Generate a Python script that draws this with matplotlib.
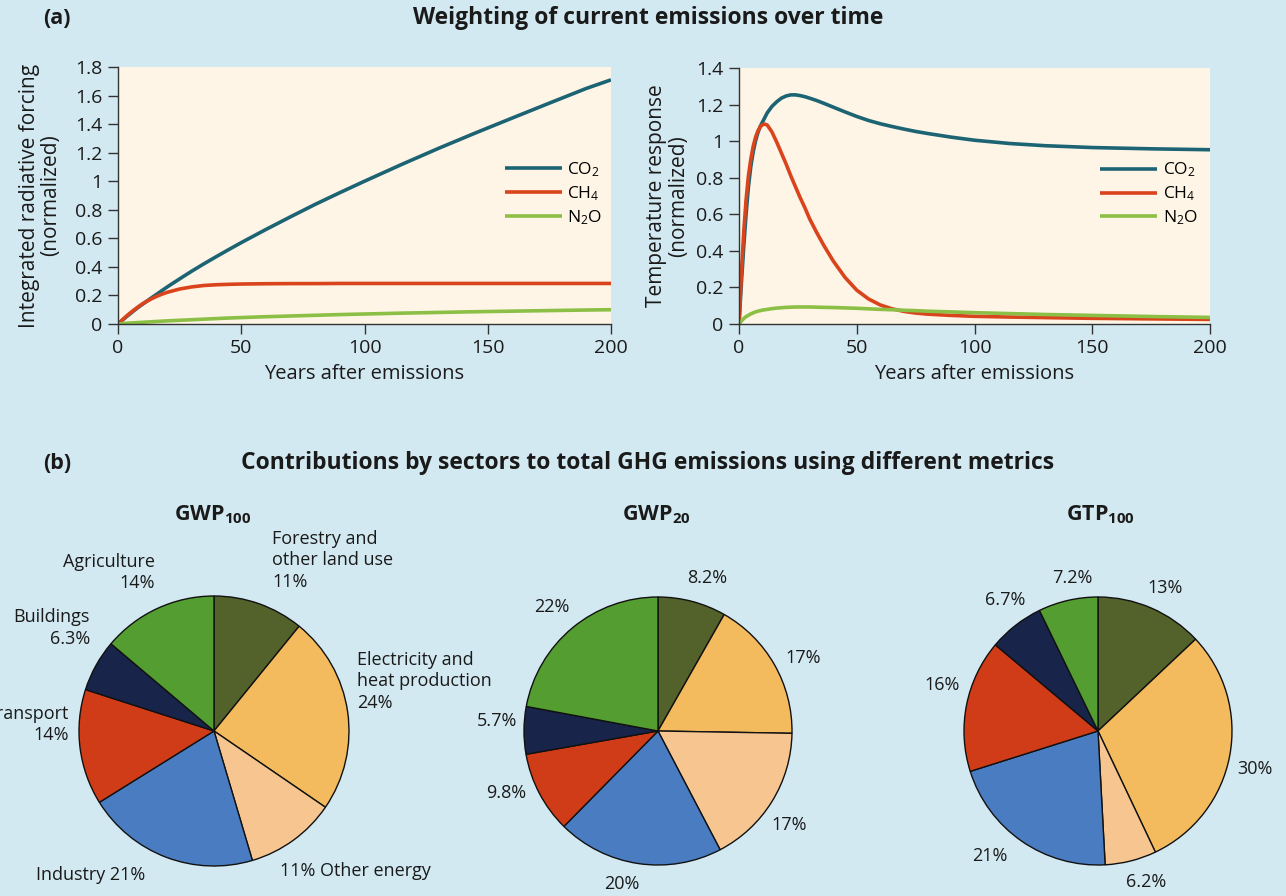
import matplotlib
matplotlib.use("Agg")
import matplotlib.pyplot as plt
from matplotlib.ticker import FuncFormatter

# ---------------- data ----------------
gases = ["CO$_2$", "CH$_4$", "N$_2$O"]

years_irf = [0, 2, 4, 6, 8, 10, 12, 14, 16, 18, 20, 25, 30, 35, 40, 45, 50, 60, 70, 80, 90, 100,
             115, 130, 145, 160, 175, 190, 200]
co2_irf = [0, 0.03, 0.059, 0.087, 0.114, 0.139, 0.164, 0.188, 0.212, 0.236, 0.26, 0.316, 0.371, 0.423,
           0.473, 0.522, 0.57, 0.662, 0.751, 0.838, 0.92, 1.0, 1.117, 1.23, 1.338, 1.443, 1.547, 1.65, 1.71]
ch4_irf = [0, 0.033, 0.064, 0.092, 0.118, 0.142, 0.162, 0.18, 0.196, 0.21, 0.222, 0.245, 0.26, 0.27,
           0.275, 0.278, 0.28, 0.282, 0.283, 0.283, 0.284, 0.284, 0.284, 0.284, 0.284, 0.284, 0.284, 0.284, 0.284]
n2o_irf = [0, 0.003, 0.006, 0.008, 0.01, 0.012, 0.014, 0.016, 0.018, 0.02, 0.022, 0.026, 0.03, 0.034,
           0.038, 0.042, 0.045, 0.051, 0.056, 0.061, 0.066, 0.07, 0.076, 0.081, 0.086, 0.09, 0.094, 0.098, 0.1]

years_temp = [0, 1, 2, 3, 4, 5, 6, 7, 8, 9, 10, 11, 12, 14, 16, 18, 20, 22, 24, 26, 28, 30, 33, 36, 40,
              45, 50, 55, 60, 65, 70, 75, 80, 90, 100, 115, 130, 150, 175, 200]
co2_temp = [0, 0.22, 0.42, 0.6, 0.75, 0.86, 0.94, 1.0, 1.045, 1.08, 1.105, 1.13, 1.155, 1.19, 1.215,
            1.235, 1.247, 1.253, 1.253, 1.249, 1.243, 1.235, 1.222, 1.207, 1.186, 1.16, 1.135, 1.113, 1.095,
            1.08, 1.066, 1.053, 1.042, 1.022, 1.005, 0.987, 0.975, 0.965, 0.958, 0.953]
ch4_temp = [0, 0.27, 0.5, 0.68, 0.81, 0.9, 0.97, 1.02, 1.055, 1.078, 1.09, 1.093, 1.088, 1.05, 0.995,
            0.935, 0.875, 0.81, 0.75, 0.69, 0.635, 0.575, 0.5, 0.43, 0.345, 0.255, 0.185, 0.137, 0.104,
            0.083, 0.069, 0.06, 0.054, 0.047, 0.042, 0.038, 0.035, 0.031, 0.028, 0.025]
n2o_temp = [0, 0.016, 0.03, 0.04, 0.048, 0.055, 0.061, 0.066, 0.07, 0.073, 0.076, 0.078, 0.08, 0.084,
            0.087, 0.089, 0.091, 0.092, 0.093, 0.093, 0.093, 0.093, 0.092, 0.091, 0.09, 0.088, 0.086,
            0.083, 0.08, 0.078, 0.075, 0.073, 0.07, 0.066, 0.062, 0.057, 0.052, 0.047, 0.041, 0.036]

sectors = ["Forestry and other land use", "Electricity and heat production", "Other energy",
           "Industry", "Transport", "Buildings", "Agriculture"]
gwp100 = [11, 24, 11, 21, 14, 6.3, 14]
gwp20 = [8.2, 17, 17, 20, 9.8, 5.7, 22]
gtp100 = [13, 30, 6.2, 21, 16, 6.7, 7.2]

gwp100_labels = ["Forestry and\nother land use\n11%", "Electricity and\nheat production\n24%",
                 "11% Other energy", "Industry 21%", "Transport\n14%", "Buildings\n6.3%", "Agriculture\n14%"]
gwp20_labels = ["8.2%", "17%", "17%", "20%", "9.8%", "5.7%", "22%"]
gtp100_labels = ["13%", "30%", "6.2%", "21%", "16%", "6.7%", "7.2%"]

# ---------------- style ----------------
plt.rcParams['font.family'] = ['Open Sans', 'DejaVu Sans']
plt.rcParams['mathtext.fontset'] = 'custom'
plt.rcParams['mathtext.rm'] = 'Open Sans'
plt.rcParams['mathtext.it'] = 'Open Sans:italic'
plt.rcParams['mathtext.bf'] = 'Open Sans:bold'

BG = "#d3e9f1"
AXBG = "#fef5e6"
line_colors = ["#1c6473", "#d9441c", "#8cbf45"]
sector_colors = ["#52622a", "#f4bb5e", "#f7c690", "#4a7cc2", "#d03c17", "#182449", "#549d31"]
TXT = "#1a1a1a"

W, H = 1286, 896
fig = plt.figure(figsize=(W / 100, H / 100), dpi=100, facecolor=BG)


def box(x0, y0, x1, y1):
    return [x0 / W, 1 - y1 / H, (x1 - x0) / W, (y1 - y0) / H]


def style_line_ax(ax, ymax, ystep):
    ax.set_facecolor(AXBG)
    for s in ["top", "right"]:
        ax.spines[s].set_visible(False)
    for s in ["left", "bottom"]:
        ax.spines[s].set_color("#333333")
        ax.spines[s].set_linewidth(1.0)
    ax.set_xlim(0, 200)
    ax.set_ylim(0, ymax)
    ax.set_xticks([0, 50, 100, 150, 200])
    n = int(round(ymax / ystep))
    ax.set_yticks([round(i * ystep, 2) for i in range(n + 1)])
    ax.yaxis.set_major_formatter(FuncFormatter(lambda v, p: f"{v:g}"))
    ax.tick_params(direction="out", length=7, width=1, color="#333333", labelsize=14, labelcolor=TXT, pad=4)
    ax.set_xlabel("Years after emissions", fontsize=14.5, color=TXT, labelpad=5)


# ---------------- panel (a) ----------------
ax1 = fig.add_axes(box(118, 67, 611, 324))
style_line_ax(ax1, 1.8, 0.2)
for vals, c, lab in zip([co2_irf, ch4_irf, n2o_irf], line_colors, gases):
    ax1.plot(years_irf, vals, color=c, lw=2.6, label=lab, solid_capstyle="butt")
ax1.set_ylabel("Integrated radiative forcing\n(normalized)", fontsize=15, color=TXT, labelpad=10, linespacing=1.05)
ax1.legend(loc="upper left", bbox_to_anchor=(0.77, 0.665), frameon=False, fontsize=12.5,
           handlelength=3.3, handletextpad=0.3, labelspacing=0.3, borderaxespad=0)

ax2 = fig.add_axes(box(739, 68, 1210, 324))
style_line_ax(ax2, 1.4, 0.2)
for vals, c, lab in zip([co2_temp, ch4_temp, n2o_temp], line_colors, gases):
    ax2.plot(years_temp, vals, color=c, lw=2.6, label=lab, solid_capstyle="butt")
ax2.set_ylabel("Temperature response\n(normalized)", fontsize=15, color=TXT, labelpad=5, linespacing=1.05)
ax2.legend(loc="upper left", bbox_to_anchor=(0.752, 0.665), frameon=False, fontsize=12.5,
           handlelength=3.3, handletextpad=0.3, labelspacing=0.3, borderaxespad=0)

fig.text(57 / W, 1 - 18 / H, "(a)", fontsize=15.5, fontweight="bold", ha="center", va="center", color=TXT)
fig.text(648 / W, 1 - 18 / H, "Weighting of current emissions over time", fontsize=16.5,
         fontweight="bold", ha="center", va="center", color=TXT)
fig.text(57 / W, 1 - 463 / H, "(b)", fontsize=15.5, fontweight="bold", ha="center", va="center", color=TXT)
fig.text(648 / W, 1 - 463 / H, "Contributions by sectors to total GHG emissions using different metrics",
         fontsize=16.5, fontweight="bold", ha="center", va="center", color=TXT)

# ---------------- panel (b) ----------------
pies = [
    (214, 731, 135, gwp100, gwp100_labels, r"GWP$_{\mathbf{100}}$", 213,
     [(0.43, 1.49, "left", "top"), (1.06, 0.595, "left", "top"), (0.49, -1.04, "left", "center"),
      (-1.32, -1.067, "left", "center"), (-1.075, 0.195, "right", "top"), (-0.92, 0.91, "right", "top"),
      (-0.437, 1.32, "right", "top")]),
    (658, 731, 134, gwp20, gwp20_labels, r"GWP$_{\mathbf{20}}$", 656,
     [(0.216, 1.14, "left", "center"), (0.95, 0.545, "left", "center"), (0.85, -0.70, "left", "center"),
      (-0.27, -1.14, "center", "center"), (-0.98, -0.46, "right", "center"), (-1.05, 0.075, "right", "center"),
      (-0.66, 0.925, "right", "center")]),
    (1098, 731, 134, gtp100, gtp100_labels, r"GTP$_{\mathbf{100}}$", 1100,
     [(0.366, 1.07, "left", "center"), (1.04, -0.28, "left", "center"), (0.21, -1.13, "left", "center"),
      (-0.94, -0.93, "left", "center"), (-1.03, 0.34, "right", "center"), (-0.545, 0.98, "right", "center"),
      (-0.343, 1.14, "left", "center")]),
]

for cx, cy, r, vals, labels, title, tx, pos in pies:
    ax = fig.add_axes(box(cx - r, cy - r, cx + r, cy + r))
    ax.pie(vals, colors=sector_colors, startangle=90, counterclock=False, radius=1,
           wedgeprops=dict(edgecolor="#111111", linewidth=1.0))
    ax.set_xlim(-1, 1)
    ax.set_ylim(-1, 1)
    ax.set_aspect("equal")
    ax.axis("off")
    for lab, (x, y, ha, va) in zip(labels, pos):
        ax.text(x, y, lab, ha=ha, va=va, fontsize=13, color=TXT, linespacing=1.25, clip_on=False)
    fig.text(tx / W, 1 - 515 / H, title, fontsize=15.5, fontweight="bold", ha="center", va="center", color=TXT)

fig.savefig("out.png", dpi=100, facecolor=BG)
